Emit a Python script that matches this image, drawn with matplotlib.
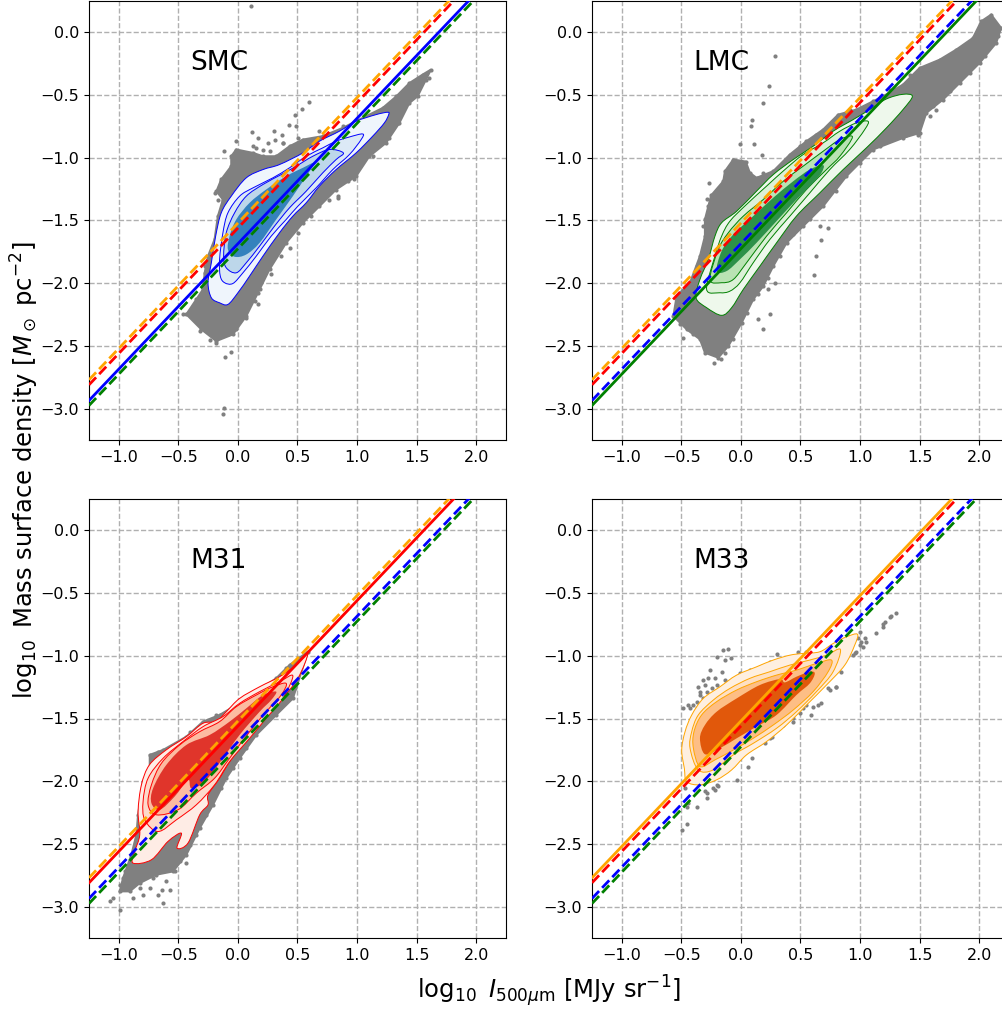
import matplotlib
matplotlib.use("Agg")
import matplotlib.pyplot as plt
from matplotlib.patches import Polygon, PathPatch
from matplotlib.path import Path

x_ticks = [-1.0, -0.5, 0.0, 0.5, 1.0, 1.5, 2.0]
y_ticks = [0.0, -0.5, -1.0, -1.5, -2.0, -2.5, -3.0]
fit_x = [-1.25, 2.25]
fit_green = [-2.975, 0.525]
fit_blue = [-2.935, 0.565]
fit_orange = [-2.77, 0.73]
fit_red = [-2.81, 0.69]

smc_cloud = [(1.62,-.297),(1.55,-.337),(1.44,-.404),(1.33,-.51),(1.215,-.603),(.99,-.709),(.88,-.762),(.71,-.828),(.545,-.855),(.433,-.908),(.32,-.988),(.21,-.988),(.126,-.961),(-.014,-.934),(-.056,-.988),(-.056,-1.067),(-.14,-1.173),(-.18,-1.266),(-.126,-1.333),(-.168,-1.465),(-.196,-1.651),(-.251,-1.784),(-.279,-1.917),(-.293,-2.049),(-.349,-2.129),(-.433,-2.248),(-.307,-2.368),(-.182,-2.461),(-.042,-2.408),(.07,-2.262),(.168,-2.076),(.265,-1.89),(.405,-1.678),(.545,-1.518),(.684,-1.386),(.824,-1.253),(.992,-1.147),(1.103,-.988),(1.243,-.881),(1.355,-.722),(1.439,-.563),(1.508,-.51),(1.578,-.377)]
smc_points = [(.11,.207),(.595,-.552),(.539,-.608),(.483,-.656),(.427,-.735),(.302,-.788),(.372,-.815),(.489,-.749),(.12,-.796),(.168,-.842),(.126,-.908),(-.117,-.948),(-.014,-.868),(.251,-.881),(.307,-.855),(.377,-.881),(.21,-.934),(-.237,-2.453),(-.182,-2.474),(-.056,-2.548),(-.106,-2.588),(-.12,-2.997),(-.126,-3.04),(.838,-1.319),(.978,-1.173),(.168,-2.169),
 (-.14,-1.187),(-.196,-1.28),(-.098,-1.173),(-.168,-1.333),(-.237,-1.81),(-.279,-1.864),(-.321,-2.103),(-.377,-2.195),(-.461,-2.248),(-.321,-2.381),(-.279,-2.328),(-.209,-2.421),(-.084,-2.408),(-.014,-2.368),(.07,-2.275),(.14,-2.142),(.182,-2.049),(.279,-1.93),(.363,-1.784),(.433,-1.718),(.503,-1.598),(.615,-1.465),(.768,-1.333),(.838,-1.306),(.922,-1.187),(1.131,-.988),(1.271,-.842),(1.341,-.722),(1.48,-.51),(1.606,-.364),(1.285,-.589),(1.159,-.642),(.88,-.749),(.684,-.788),(.503,-.842),(.377,-.881),(.265,-.948),(.154,-.921),(.07,-.988),(-.042,-1.014)]
smc_l1 = [(1.257,-.637),(1.159,-.656),(.992,-.709),(.852,-.788),(.684,-.868),(.545,-.961),(.349,-1.054),(.21,-1.094),(.07,-1.16),(-.056,-1.306),(-.14,-1.439),(-.187,-1.625),(-.223,-1.837),(-.251,-1.996),(-.223,-2.116),(-.154,-2.156),(-.084,-2.169),(0,-2.076),(.098,-1.943),(.21,-1.784),(.349,-1.598),(.461,-1.465),(.573,-1.359),(.684,-1.226),(.824,-1.094),(.992,-.961),(1.131,-.828),(1.229,-.722),(1.265,-.656)]
smc_l2 = [(1.047,-.81),(.936,-.834),(.824,-.868),(.712,-.921),(.573,-.988),(.433,-1.08),(.293,-1.16),(.126,-1.24),(.014,-1.306),(-.084,-1.439),(-.126,-1.598),(-.154,-1.81),(-.148,-1.943),(-.112,-1.996),(-.042,-2.002),(.042,-1.917),(.154,-1.784),(.279,-1.625),(.405,-1.492),(.503,-1.386),(.656,-1.24),(.796,-1.094),(.936,-.974),(1.034,-.855)]
smc_l3 = [(.885,-.961),(.768,-.934),(.628,-.988),(.489,-1.067),(.363,-1.134),(.21,-1.213),(.07,-1.306),(-.028,-1.439),(-.098,-1.598),(-.12,-1.784),(-.098,-1.877),(-.014,-1.917),(.07,-1.837),(.182,-1.704),(.307,-1.545),(.433,-1.399),(.573,-1.266),(.712,-1.12),(.824,-1.014)]
smc_l4 = [(.642,-1.041),(.545,-1.08),(.405,-1.147),(.237,-1.253),(.098,-1.359),(-.014,-1.492),(-.07,-1.625),(-.084,-1.731),(-.028,-1.789),(.07,-1.771),(.182,-1.678),(.321,-1.492),(.461,-1.306),(.573,-1.147)]

lmc_cloud = [(2.10,.141),(2.017,.088),(1.947,-.045),(1.807,-.138),(1.668,-.218),(1.5,-.284),(1.36,-.417),(1.193,-.51),(.969,-.616),(.816,-.656),(.69,-.775),(.55,-.868),(.411,-.974),(.271,-1.107),(.131,-1.16),(.075,-1.12),(.04,-1.03),(-.064,-1.014),(-.134,-1.107),(-.148,-1.187),(-.25,-1.3),(-.302,-1.492),(-.302,-1.625),(-.344,-1.784),(-.427,-1.996),(-.539,-2.102),(-.567,-2.262),(-.455,-2.368),(-.344,-2.447),(-.302,-2.554),(-.19,-2.594),(-.106,-2.501),(.006,-2.315),(.103,-2.129),(.187,-2.023),(.271,-1.864),(.383,-1.678),(.522,-1.545),(.69,-1.386),(.885,-1.147),(1.109,-.934),(1.36,-.842),(1.5,-.802),(1.556,-.642),(1.696,-.536),(1.835,-.404),(2.003,-.244),(2.142,-.085),(2.184,.035)]
lmc_points = [(.285,-.191),(.237,-.425),(.187,-.563),(.095,-.696),(.084,-.749),(.109,-.889),(-.008,-.887),(.173,-.974),(-.265,-1.2),(-.282,-1.327),(.676,-1.657),(.628,-1.784),(.612,-1.938),(.662,-1.545),(.732,-1.558),(.285,-1.996),(.229,-2.049),(.243,-2.248),(.187,-2.368),(.145,-2.288),(-.226,-2.639),(-.17,-2.607),(-.486,-2.434),(1.584,-.669),(1.388,-.815),(1.486,-.815),(1.64,-.616),(2.059,-.125),
 (2.059,.101),(2.073,-.005),(1.919,-.111),(1.751,-.178),(1.584,-.258),(1.416,-.337),(1.249,-.457),(1.109,-.55),(.913,-.616),(.774,-.709),(.634,-.815),(.494,-.908),(.355,-1.041),(.187,-1.12),(-.036,-1.067),(-.12,-1.147),(-.204,-1.266),(-.274,-1.386),(-.316,-1.545),(-.372,-1.864),(-.483,-2.063),(-.539,-2.182),(-.511,-2.328),(-.399,-2.408),(-.288,-2.527),(-.134,-2.554),(-.064,-2.447),(.047,-2.235),(.145,-2.089),(.229,-1.956),(.327,-1.784),(.439,-1.611),(.578,-1.492),(.802,-1.266),(.997,-1.041),(1.165,-.908),(1.332,-.828),(1.612,-.589),(1.751,-.47),(1.919,-.324),(2.045,-.191),(2.156,-.032)]
lmc_l1 = [(1.439,-.51),(1.36,-.494),(1.221,-.531),(1.081,-.616),(.941,-.696),(.774,-.788),(.606,-.908),(.439,-1.014),(.271,-1.134),(.131,-1.266),(-.036,-1.426),(-.162,-1.518),(-.218,-1.625),(-.274,-1.81),(-.344,-1.97),(-.377,-2.116),(-.288,-2.195),(-.162,-2.256),(-.078,-2.195),(.02,-2.049),(.159,-1.864),(.299,-1.678),(.466,-1.465),(.662,-1.28),(.858,-1.094),(1.053,-.921),(1.221,-.762),(1.36,-.616)]
lmc_l2 = [(1.067,-.709),(.969,-.722),(.83,-.788),(.69,-.881),(.522,-.974),(.369,-1.094),(.215,-1.226),(.047,-1.372),(-.092,-1.505),(-.162,-1.625),(-.218,-1.784),(-.288,-2.049),(-.176,-2.076),(-.092,-2.063),(-.008,-1.996),(.103,-1.837),(.243,-1.651),(.411,-1.465),(.578,-1.28),(.746,-1.094),(.913,-.934),(1.039,-.775)]
lmc_l3 = [(.936,-.834),(.83,-.855),(.69,-.948),(.522,-1.067),(.355,-1.187),(.187,-1.333),(.02,-1.465),(-.106,-1.598),(-.19,-1.731),(-.26,-1.97),(-.162,-1.996),(-.064,-1.97),(.047,-1.837),(.215,-1.625),(.383,-1.439),(.55,-1.253),(.718,-1.094),(.83,-.988)]
lmc_l4 = [(.69,-1.059),(.578,-1.094),(.439,-1.187),(.271,-1.319),(.103,-1.465),(-.064,-1.611),(-.162,-1.744),(-.204,-1.903),(-.12,-1.903),(-.008,-1.81),(.131,-1.678),(.299,-1.505),(.466,-1.333),(.606,-1.2),(.676,-1.12)]

m31_cloud = [(.587,-.968),(.433,-1.074),(.321,-1.18),(.154,-1.286),(-.014,-1.393),(-.154,-1.472),(-.293,-1.525),(-.433,-1.645),(-.628,-1.751),(-.74,-1.79),(-.74,-1.897),(-.796,-2.003),(-.838,-2.268),(-.852,-2.427),(-.894,-2.586),(-.964,-2.772),(-.992,-2.878),(-.908,-2.878),(-.824,-2.812),(-.684,-2.745),(-.545,-2.719),(-.433,-2.586),(-.321,-2.374),(-.209,-2.188),(-.098,-1.976),(.014,-1.817),(.154,-1.631),(.321,-1.472),(.461,-1.34)]
m31_points = [(-.992,-3.027),(-1.075,-2.952),(-.628,-2.971),(-.573,-2.865),(-.433,-2.653),(-.796,-2.905),(-.67,-2.905),(-.74,-2.851),(-1.047,-2.931),
 (-.182,-1.472),(-.405,-1.605),(-.545,-1.724),(-.67,-1.764),(-.726,-1.817),(-.768,-1.976),(-.992,-2.825),(-.95,-2.719),(-.88,-2.639),(-.908,-2.851),(-.824,-2.851),(-.712,-2.772),(-.601,-2.798),(-.531,-2.719),(-.489,-2.639),(-.405,-2.507),(-.349,-2.427),(-.265,-2.268),(-.14,-2.056),(-.042,-1.897),(.07,-1.737),(.21,-1.552),(.433,-1.313),(.475,-1.26),(.405,-1.101),(-.88,-2.931),(-.636,-2.87)]
m31_l1 = [(.587,-.981),(.489,-1.074),(.349,-1.167),(.182,-1.247),(.014,-1.34),(-.098,-1.446),(-.182,-1.525),(-.293,-1.538),(-.433,-1.645),(-.603,-1.751),(-.743,-1.87),(-.81,-2.029),(-.838,-2.241),(-.824,-2.427),(-.866,-2.56),(-.880,-2.653),(-.726,-2.626),(-.587,-2.48),(-.475,-2.414),(-.511,-2.533),(-.419,-2.493),(-.321,-2.268),(-.251,-2.188),(-.251,-2.109),(-.154,-1.976),(-.07,-1.844),(.07,-1.658),(.21,-1.499),(.349,-1.366),(.503,-1.18)]
m31_l2 = [(.461,-1.159),(.349,-1.207),(.182,-1.286),(.014,-1.379),(-.126,-1.485),(-.293,-1.565),(-.461,-1.684),(-.628,-1.817),(-.754,-1.976),(-.796,-2.162),(-.782,-2.308),(-.67,-2.401),(-.517,-2.308),(-.349,-2.188),(-.196,-2.029),(-.07,-1.844),(.098,-1.658),(.237,-1.499),(.377,-1.34)]
m31_l3 = [(.405,-1.22),(.293,-1.247),(.154,-1.313),(-.014,-1.406),(-.154,-1.525),(-.321,-1.605),(-.489,-1.711),(-.642,-1.857),(-.726,-2.029),(-.754,-2.188),(-.684,-2.268),(-.503,-2.228),(-.349,-2.095),(-.196,-1.976),(-.07,-1.817),(.098,-1.605),(.237,-1.446),(.363,-1.313)]
m31_l4 = [(.321,-1.286),(.21,-1.313),(.07,-1.419),(-.07,-1.525),(-.237,-1.631),(-.433,-1.711),(-.601,-1.87),(-.712,-2.056),(-.726,-2.175),(-.656,-2.228),(-.531,-2.122),(-.419,-1.989),(-.391,-2.056),(-.279,-2.003),(-.126,-1.817),(.014,-1.631),(.182,-1.446),(.279,-1.353)]

m33_cloud = []
m33_points = [(-.447,-1.393),(-.483,-1.42),(-.372,-1.366),(-.344,-1.286),(-.358,-1.247),(-.316,-1.194),(-.274,-1.175),(-.218,-1.18),(-.26,-1.114),(-.162,-1.127),(-.134,-1.194),(-.204,-1.233),(-.288,-1.286),(-.316,-1.34),(-.372,-1.419),(-.204,-1.013),(-.154,-.955),(-.106,-.947),(-.134,-1.034),(-.087,-1.021),(-.008,-1.141),(.075,-1.114),(.159,-1.088),(.243,-1.048),(.304,-.989),(.411,-1.008),(.48,-.968),(.55,-.968),(1.304,-.655),(1.249,-.69),(1.207,-.729),(1.193,-.769),(1.137,-.822),(1.053,-.889),(1.025,-.928),(.983,-.862),(.997,-.809),(.955,-.981),(.941,-.995),(.802,-1.247),(.746,-1.273),(.676,-1.379),(.606,-1.406),(.592,-1.472),(.522,-1.419),(.439,-1.525),(.257,-1.645),(.201,-1.698),(.095,-1.817),(.061,-1.883),(-.036,-1.989),(-.19,-2.042),(-.218,-2.069),(-.288,-2.135),(-.372,-2.202),(-.455,-2.34),(-.497,-2.387),(-.302,-2.082),(-.441,-2.175),(-.469,-2.056),(.69,-1.22),(.844,-1.127),
 (-.33,-1.379),(-.302,-1.233),(-.344,-1.313),(-.246,-1.26),(-.288,-1.34),(-.399,-1.393),(-.427,-1.419),(-.232,-2.056),(-.204,-2.029),(-.288,-2.095),(-.455,-2.202),(1.011,-.889),(1.039,-.862),(.969,-.968),(.997,-.915),(.648,-1.393),(.55,-1.393),(.494,-1.459),(.439,-1.499),(.355,-1.552),(.243,-1.658),(.732,-1.26),(.802,-1.247),(1.193,-.743),(1.263,-.682)]
m33_l1 = [(.978,-.828),(.885,-.849),(.774,-.902),(.662,-.968),(.522,-.981),(.411,-.995),(.271,-1.034),(.131,-1.088),(-.036,-1.154),(-.176,-1.247),(-.316,-1.34),(-.413,-1.472),(-.469,-1.605),(-.497,-1.751),(-.475,-1.897),(-.455,-2.003),(-.344,-2.029),(-.204,-1.989),(-.078,-1.91),(.047,-1.79),(.215,-1.684),(.383,-1.552),(.55,-1.393),(.718,-1.233),(.872,-1.074),(.955,-.915)]
m33_l2 = [(.835,-.95),(.718,-.995),(.578,-1.034),(.411,-1.074),(.243,-1.127),(.075,-1.18),(-.092,-1.26),(-.232,-1.353),(-.358,-1.472),(-.413,-1.605),(-.427,-1.737),(-.358,-1.91),(-.232,-1.91),(-.064,-1.79),(.103,-1.698),(.299,-1.578),(.466,-1.446),(.634,-1.286),(.774,-1.127)]
m33_l3 = [(.76,-1.034),(.634,-1.061),(.466,-1.114),(.299,-1.154),(.131,-1.207),(-.036,-1.273),(-.204,-1.366),(-.33,-1.472),(-.394,-1.605),(-.399,-1.737),(-.344,-1.883),(-.218,-1.83),(-.064,-1.751),(.103,-1.658),(.271,-1.552),(.439,-1.432),(.606,-1.286),(.732,-1.127)]
m33_l4 = [(.62,-1.141),(.578,-1.127),(.466,-1.167),(.369,-1.212),(.327,-1.186),(.159,-1.233),(-.036,-1.34),(-.204,-1.446),(-.302,-1.552),(-.344,-1.658),(-.302,-1.785),(-.176,-1.737),(-.036,-1.658),(.131,-1.565),(.299,-1.472),(.466,-1.313),(.578,-1.22)]

panels = [
    ("SMC", smc_cloud, smc_points, [smc_l1, smc_l2, smc_l3, smc_l4], "blue", ["#eff5fc", "#dce9f6", "#bdd7ea", "#3582bd"]),
    ("LMC", lmc_cloud, lmc_points, [lmc_l1, lmc_l2, lmc_l3, lmc_l4], "green", ["#eef8ec", "#dcf1d8", "#b9e3b3", "#2d9149"]),
    ("M31", m31_cloud, m31_points, [m31_l1, m31_l2, m31_l3, m31_l4], "red", ["#feece5", "#fdd9cb", "#fcbba1", "#e0352b"]),
    ("M33", m33_cloud, m33_points, [m33_l1, m33_l2, m33_l3, m33_l4], "orange", ["#feefe0", "#fee0c4", "#fdbe85", "#e1580b"]),
]
fits = [("green", fit_green), ("blue", fit_blue), ("orange", fit_orange), ("red", fit_red)]


def rounded(points):
    # closed curve through the read outline points
    n = len(points)
    verts = [points[0]]
    codes = [Path.MOVETO]
    for i in range(n):
        p0, p1, p2, p3 = points[i - 1], points[i], points[(i + 1) % n], points[(i + 2) % n]
        c1 = (p1[0] + (p2[0] - p0[0]) / 6, p1[1] + (p2[1] - p0[1]) / 6)
        c2 = (p2[0] - (p3[0] - p1[0]) / 6, p2[1] - (p3[1] - p1[1]) / 6)
        verts += [c1, c2, p2]
        codes += [Path.CURVE4, Path.CURVE4, Path.CURVE4]
    return Path(verts, codes)


W, H = 1003, 1010
fig = plt.figure(figsize=(W / 100, H / 100), dpi=100)
boxes = [(89, 1), (592, 1), (89, 499), (592, 499)]

for (name, cloud, points, levels, col, fills), (left, top) in zip(panels, boxes):
    ax = fig.add_axes([left / W, 1 - (top + 439) / H, 417 / W, 439 / H])
    ax.set_xlim(-1.25, 2.25)
    ax.set_ylim(-3.25, 0.25)
    ax.set_xticks(x_ticks)
    ax.set_yticks(y_ticks)
    ax.tick_params(labelsize=11.5)
    ax.grid(True, color="#b0b0b0", ls="--", lw=1)
    ax.set_axisbelow(True)
    if cloud:
        ax.add_patch(Polygon(cloud, closed=True, fc="gray", ec="gray", lw=1.5, zorder=2))
        ax.scatter(*zip(*cloud), s=9, c="gray", lw=0, zorder=2)
    ax.scatter(*zip(*points), s=9, c="gray", lw=0, zorder=2)
    for i, (lev, fc) in enumerate(zip(levels, fills)):
        ec = col if i < 3 else "none"
        ax.add_patch(PathPatch(rounded(lev), fc=fc, ec=ec, lw=0.7, zorder=3 + i * 0.1))
    for fname, fy in fits:
        ls = "-" if fname == col else "--"
        ax.plot(fit_x, fy, color=fname, ls=ls, lw=2, zorder=5)
    ax.text(-0.4, -0.3, name, fontsize=19, zorder=6)

fig.text(25 / W, 1 - 470 / H, r"$\log_{10}$ Mass surface density [$M_\odot$ pc$^{-2}$]",
         rotation=90, ha="center", va="center", fontsize=17.5)
fig.text(549 / W, 1 - 991 / H, r"$\log_{10}$ $I_{500\mu{\rm m}}$ [MJy sr$^{-1}$]",
         ha="center", va="center", fontsize=17.5)
fig.savefig("out.png", dpi=100)
